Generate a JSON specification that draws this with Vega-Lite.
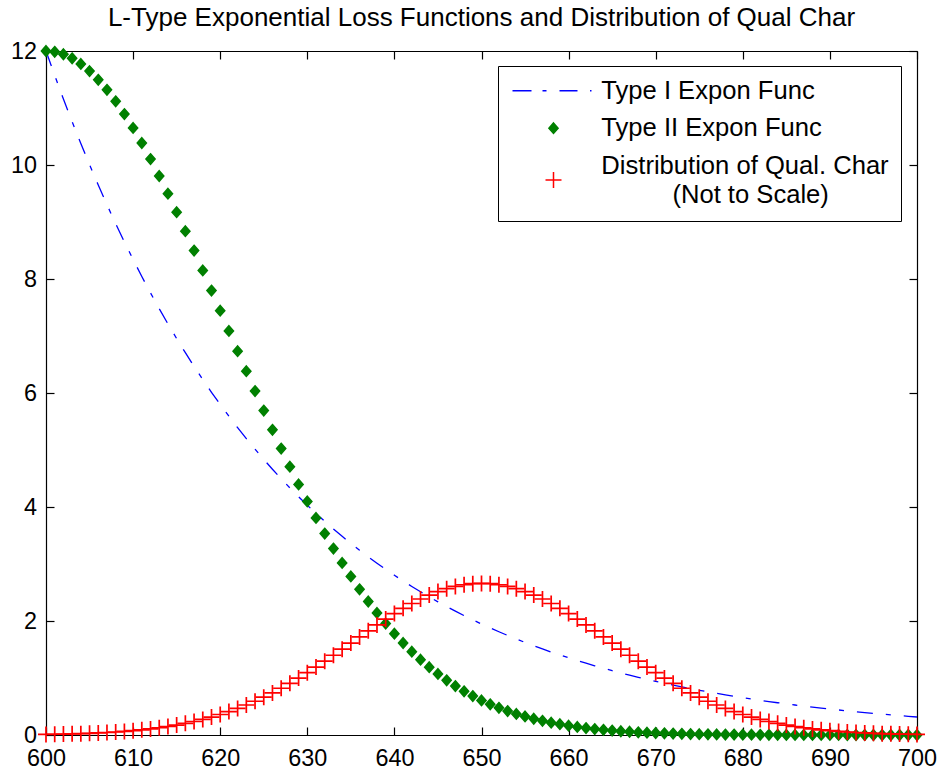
{
  "$schema": "https://vega.github.io/schema/vega-lite/v6.json",
  "autosize": {"type": "none"},
  "padding": {"left": 46, "top": 51, "right": 25, "bottom": 36},
  "width": 871,
  "height": 684,
  "background": "#ffffff",
  "title": {
    "text": "L-Type Exponential Loss Functions and Distribution of Qual Char",
    "font": "Liberation Sans",
    "fontSize": 26,
    "fontWeight": "normal",
    "color": "#000000",
    "anchor": "middle",
    "offset": 8
  },
  "data": {
    "values": [
      {"x": 600, "t1": 12.000, "t2": 12.000, "d": 0.010},
      {"x": 601, "t1": 11.571, "t2": 11.986, "d": 0.013},
      {"x": 602, "t1": 11.158, "t2": 11.943, "d": 0.016},
      {"x": 603, "t1": 10.760, "t2": 11.872, "d": 0.020},
      {"x": 604, "t1": 10.376, "t2": 11.773, "d": 0.024},
      {"x": 605, "t1": 10.005, "t2": 11.647, "d": 0.030},
      {"x": 606, "t1": 9.648, "t2": 11.495, "d": 0.036},
      {"x": 607, "t1": 9.303, "t2": 11.319, "d": 0.044},
      {"x": 608, "t1": 8.971, "t2": 11.118, "d": 0.053},
      {"x": 609, "t1": 8.651, "t2": 10.894, "d": 0.063},
      {"x": 610, "t1": 8.342, "t2": 10.650, "d": 0.076},
      {"x": 611, "t1": 8.044, "t2": 10.386, "d": 0.090},
      {"x": 612, "t1": 7.757, "t2": 10.104, "d": 0.107},
      {"x": 613, "t1": 7.480, "t2": 9.807, "d": 0.127},
      {"x": 614, "t1": 7.212, "t2": 9.496, "d": 0.149},
      {"x": 615, "t1": 6.955, "t2": 9.172, "d": 0.175},
      {"x": 616, "t1": 6.707, "t2": 8.839, "d": 0.204},
      {"x": 617, "t1": 6.467, "t2": 8.498, "d": 0.237},
      {"x": 618, "t1": 6.236, "t2": 8.150, "d": 0.273},
      {"x": 619, "t1": 6.013, "t2": 7.798, "d": 0.314},
      {"x": 620, "t1": 5.799, "t2": 7.444, "d": 0.360},
      {"x": 621, "t1": 5.592, "t2": 7.088, "d": 0.411},
      {"x": 622, "t1": 5.392, "t2": 6.734, "d": 0.466},
      {"x": 623, "t1": 5.199, "t2": 6.382, "d": 0.526},
      {"x": 624, "t1": 5.014, "t2": 6.034, "d": 0.592},
      {"x": 625, "t1": 4.835, "t2": 5.691, "d": 0.663},
      {"x": 626, "t1": 4.662, "t2": 5.355, "d": 0.739},
      {"x": 627, "t1": 4.496, "t2": 5.026, "d": 0.820},
      {"x": 628, "t1": 4.335, "t2": 4.707, "d": 0.906},
      {"x": 629, "t1": 4.180, "t2": 4.396, "d": 0.998},
      {"x": 630, "t1": 4.031, "t2": 4.097, "d": 1.093},
      {"x": 631, "t1": 3.887, "t2": 3.809, "d": 1.192},
      {"x": 632, "t1": 3.748, "t2": 3.533, "d": 1.295},
      {"x": 633, "t1": 3.614, "t2": 3.270, "d": 1.399},
      {"x": 634, "t1": 3.485, "t2": 3.019, "d": 1.506},
      {"x": 635, "t1": 3.361, "t2": 2.781, "d": 1.613},
      {"x": 636, "t1": 3.241, "t2": 2.555, "d": 1.721},
      {"x": 637, "t1": 3.125, "t2": 2.342, "d": 1.827},
      {"x": 638, "t1": 3.014, "t2": 2.142, "d": 1.932},
      {"x": 639, "t1": 2.906, "t2": 1.954, "d": 2.033},
      {"x": 640, "t1": 2.802, "t2": 1.778, "d": 2.131},
      {"x": 641, "t1": 2.702, "t2": 1.614, "d": 2.222},
      {"x": 642, "t1": 2.606, "t2": 1.462, "d": 2.307},
      {"x": 643, "t1": 2.513, "t2": 1.321, "d": 2.386},
      {"x": 644, "t1": 2.423, "t2": 1.190, "d": 2.455},
      {"x": 645, "t1": 2.336, "t2": 1.071, "d": 2.516},
      {"x": 646, "t1": 2.253, "t2": 0.960, "d": 2.567},
      {"x": 647, "t1": 2.172, "t2": 0.859, "d": 2.607},
      {"x": 648, "t1": 2.095, "t2": 0.767, "d": 2.636},
      {"x": 649, "t1": 2.020, "t2": 0.683, "d": 2.654},
      {"x": 650, "t1": 1.948, "t2": 0.607, "d": 2.660},
      {"x": 651, "t1": 1.878, "t2": 0.538, "d": 2.654},
      {"x": 652, "t1": 1.811, "t2": 0.476, "d": 2.636},
      {"x": 653, "t1": 1.747, "t2": 0.420, "d": 2.607},
      {"x": 654, "t1": 1.684, "t2": 0.370, "d": 2.567},
      {"x": 655, "t1": 1.624, "t2": 0.325, "d": 2.516},
      {"x": 656, "t1": 1.566, "t2": 0.285, "d": 2.455},
      {"x": 657, "t1": 1.510, "t2": 0.249, "d": 2.386},
      {"x": 658, "t1": 1.456, "t2": 0.217, "d": 2.307},
      {"x": 659, "t1": 1.404, "t2": 0.189, "d": 2.222},
      {"x": 660, "t1": 1.354, "t2": 0.164, "d": 2.131},
      {"x": 661, "t1": 1.306, "t2": 0.142, "d": 2.033},
      {"x": 662, "t1": 1.259, "t2": 0.122, "d": 1.932},
      {"x": 663, "t1": 1.214, "t2": 0.105, "d": 1.827},
      {"x": 664, "t1": 1.171, "t2": 0.091, "d": 1.721},
      {"x": 665, "t1": 1.129, "t2": 0.078, "d": 1.613},
      {"x": 666, "t1": 1.089, "t2": 0.066, "d": 1.506},
      {"x": 667, "t1": 1.050, "t2": 0.057, "d": 1.399},
      {"x": 668, "t1": 1.012, "t2": 0.048, "d": 1.295},
      {"x": 669, "t1": 0.976, "t2": 0.041, "d": 1.192},
      {"x": 670, "t1": 0.941, "t2": 0.035, "d": 1.093},
      {"x": 671, "t1": 0.908, "t2": 0.029, "d": 0.998},
      {"x": 672, "t1": 0.875, "t2": 0.025, "d": 0.906},
      {"x": 673, "t1": 0.844, "t2": 0.021, "d": 0.820},
      {"x": 674, "t1": 0.814, "t2": 0.017, "d": 0.739},
      {"x": 675, "t1": 0.785, "t2": 0.015, "d": 0.663},
      {"x": 676, "t1": 0.757, "t2": 0.012, "d": 0.592},
      {"x": 677, "t1": 0.730, "t2": 0.010, "d": 0.526},
      {"x": 678, "t1": 0.704, "t2": 0.008, "d": 0.466},
      {"x": 679, "t1": 0.679, "t2": 0.007, "d": 0.411},
      {"x": 680, "t1": 0.654, "t2": 0.006, "d": 0.360},
      {"x": 681, "t1": 0.631, "t2": 0.005, "d": 0.314},
      {"x": 682, "t1": 0.609, "t2": 0.004, "d": 0.273},
      {"x": 683, "t1": 0.587, "t2": 0.003, "d": 0.237},
      {"x": 684, "t1": 0.566, "t2": 0.003, "d": 0.204},
      {"x": 685, "t1": 0.546, "t2": 0.002, "d": 0.175},
      {"x": 686, "t1": 0.526, "t2": 0.002, "d": 0.149},
      {"x": 687, "t1": 0.507, "t2": 0.001, "d": 0.127},
      {"x": 688, "t1": 0.489, "t2": 0.001, "d": 0.107},
      {"x": 689, "t1": 0.472, "t2": 0.001, "d": 0.090},
      {"x": 690, "t1": 0.455, "t2": 0.001, "d": 0.076},
      {"x": 691, "t1": 0.439, "t2": 0.001, "d": 0.063},
      {"x": 692, "t1": 0.423, "t2": 0.000, "d": 0.053},
      {"x": 693, "t1": 0.408, "t2": 0.000, "d": 0.044},
      {"x": 694, "t1": 0.393, "t2": 0.000, "d": 0.036},
      {"x": 695, "t1": 0.379, "t2": 0.000, "d": 0.030},
      {"x": 696, "t1": 0.366, "t2": 0.000, "d": 0.024},
      {"x": 697, "t1": 0.353, "t2": 0.000, "d": 0.020},
      {"x": 698, "t1": 0.340, "t2": 0.000, "d": 0.016},
      {"x": 699, "t1": 0.328, "t2": 0.000, "d": 0.013},
      {"x": 700, "t1": 0.316, "t2": 0.000, "d": 0.010}
    ]
  },
  "layer": [
    {
      "mark": {"type": "line", "stroke": "#0000ff", "strokeWidth": 1.3, "strokeDash": [16, 13, 5, 13], "clip": false},
      "encoding": {
        "x": {
          "field": "x", "type": "quantitative",
          "scale": {"domain": [600, 700], "nice": false, "zero": false},
          "axis": {"orient": "bottom", "title": null, "values": [600, 610, 620, 630, 640, 650, 660, 670, 680, 690, 700], "labelPadding": 20, "labelFlush": false}
        },
        "y": {
          "field": "t1", "type": "quantitative",
          "scale": {"domain": [0, 12], "nice": false, "zero": false},
          "axis": {"orient": "left", "title": null, "values": [0, 2, 4, 6, 8, 10, 12], "labelPadding": 17.5}
        }
      }
    },
    {
      "transform": [{"fold": ["t2"], "as": ["s", "v"]}],
      "mark": {"type": "point", "strokeWidth": 1.5, "opacity": 1, "size": 100, "clip": false},
      "encoding": {
        "x": {
          "field": "x", "type": "quantitative",
          "scale": {"domain": [600, 700], "nice": false, "zero": false},
          "axis": {"orient": "top", "title": null, "labels": false, "values": [600, 610, 620, 630, 640, 650, 660, 670, 680, 690, 700]}
        },
        "y": {
          "field": "v", "type": "quantitative",
          "scale": {"domain": [0, 12], "nice": false, "zero": false},
          "axis": {"orient": "right", "title": null, "labels": false, "values": [0, 2, 4, 6, 8, 10, 12]}
        },
        "shape": {
          "field": "s", "type": "nominal",
          "scale": {
            "domain": ["t1", "t2", "d"],
            "range": [
              "M-8.2,0H-4.4M-2.2,0H-1.4M1.2,0H4.8M7.3,0H7.6",
              "M0,-1.05L0.92,0L0,1.05L-0.92,0Z",
              "M-1.6,2.86H1.6M0,1.26V4.46"
            ]
          },
          "legend": {
            "orient": "none", "legendX": 452, "legendY": 15, "title": null,
            "labelExpr": "datum.value === 't1' ? 'Type I Expon Func' : datum.value === 't2' ? 'Type II Expon Func' : ['Distribution of Qual. Char', '\u200b\u00a0\u00a0\u00a0\u00a0\u00a0\u00a0\u00a0\u00a0\u00a0\u00a0(Not to Scale)']",
            "labelFont": "Liberation Sans", "labelFontSize": 25.6, "labelColor": "#000000", "labelLimit": 600,
            "labelOffset": 35, "symbolOffset": 30.7, "padding": 12, "rowPadding": 10.4,
            "symbolSize": 100, "symbolStrokeWidth": 1.5, "symbolOpacity": 1,
            "symbolFillColor": "transparent", "symbolStrokeColor": "#000000",
            "strokeColor": "#000000", "fillColor": "#ffffff"
          }
        },
        "fill": {
          "field": "s", "type": "nominal",
          "scale": {"domain": ["t1", "t2", "d"], "range": ["transparent", "#008000", "transparent"]},
          "legend": {
            "orient": "none", "legendX": 452, "legendY": 15, "title": null,
            "labelExpr": "datum.value === 't1' ? 'Type I Expon Func' : datum.value === 't2' ? 'Type II Expon Func' : ['Distribution of Qual. Char', '\u200b\u00a0\u00a0\u00a0\u00a0\u00a0\u00a0\u00a0\u00a0\u00a0\u00a0(Not to Scale)']",
            "labelFont": "Liberation Sans", "labelFontSize": 25.6, "labelColor": "#000000", "labelLimit": 600,
            "labelOffset": 35, "symbolOffset": 30.7, "padding": 12, "rowPadding": 10.4,
            "symbolSize": 100, "symbolStrokeWidth": 1.5, "symbolOpacity": 1,
            "symbolFillColor": "transparent", "symbolStrokeColor": "#000000",
            "strokeColor": "#000000", "fillColor": "#ffffff"
          }
        },
        "stroke": {
          "field": "s", "type": "nominal",
          "scale": {"domain": ["t1", "t2", "d"], "range": ["#0000ff", "#008000", "#ff0000"]},
          "legend": {
            "orient": "none", "legendX": 452, "legendY": 15, "title": null,
            "labelExpr": "datum.value === 't1' ? 'Type I Expon Func' : datum.value === 't2' ? 'Type II Expon Func' : ['Distribution of Qual. Char', '\u200b\u00a0\u00a0\u00a0\u00a0\u00a0\u00a0\u00a0\u00a0\u00a0\u00a0(Not to Scale)']",
            "labelFont": "Liberation Sans", "labelFontSize": 25.6, "labelColor": "#000000", "labelLimit": 600,
            "labelOffset": 35, "symbolOffset": 30.7, "padding": 12, "rowPadding": 10.4,
            "symbolSize": 100, "symbolStrokeWidth": 1.5, "symbolOpacity": 1,
            "symbolFillColor": "transparent", "symbolStrokeColor": "#000000",
            "strokeColor": "#000000", "fillColor": "#ffffff"
          }
        }
      }
    },
    {
      "mark": {"type": "point", "shape": "M-1.6,0H1.6M0,-1.6V1.6", "stroke": "#ff0000", "fill": "transparent", "strokeWidth": 1.7, "opacity": 1, "size": 100, "clip": false},
      "encoding": {
        "x": {"field": "x", "type": "quantitative", "scale": {"domain": [600, 700], "nice": false, "zero": false}, "axis": null},
        "y": {"field": "d", "type": "quantitative", "scale": {"domain": [0, 12], "nice": false, "zero": false}, "axis": null}
      }
    }
  ],
  "resolve": {"axis": {"x": "independent", "y": "independent"}},
  "config": {
    "view": {"stroke": null},
    "axis": {
      "grid": false,
      "domainColor": "#000000",
      "domainWidth": 1.2,
      "tickColor": "#000000",
      "tickWidth": 1.2,
      "tickSize": -8,
      "labelFont": "Liberation Sans",
      "labelFontSize": 23.4,
      "labelColor": "#000000"
    },
    "style": {"guide-label": {"lineHeight": 29.3}}
  }
}
